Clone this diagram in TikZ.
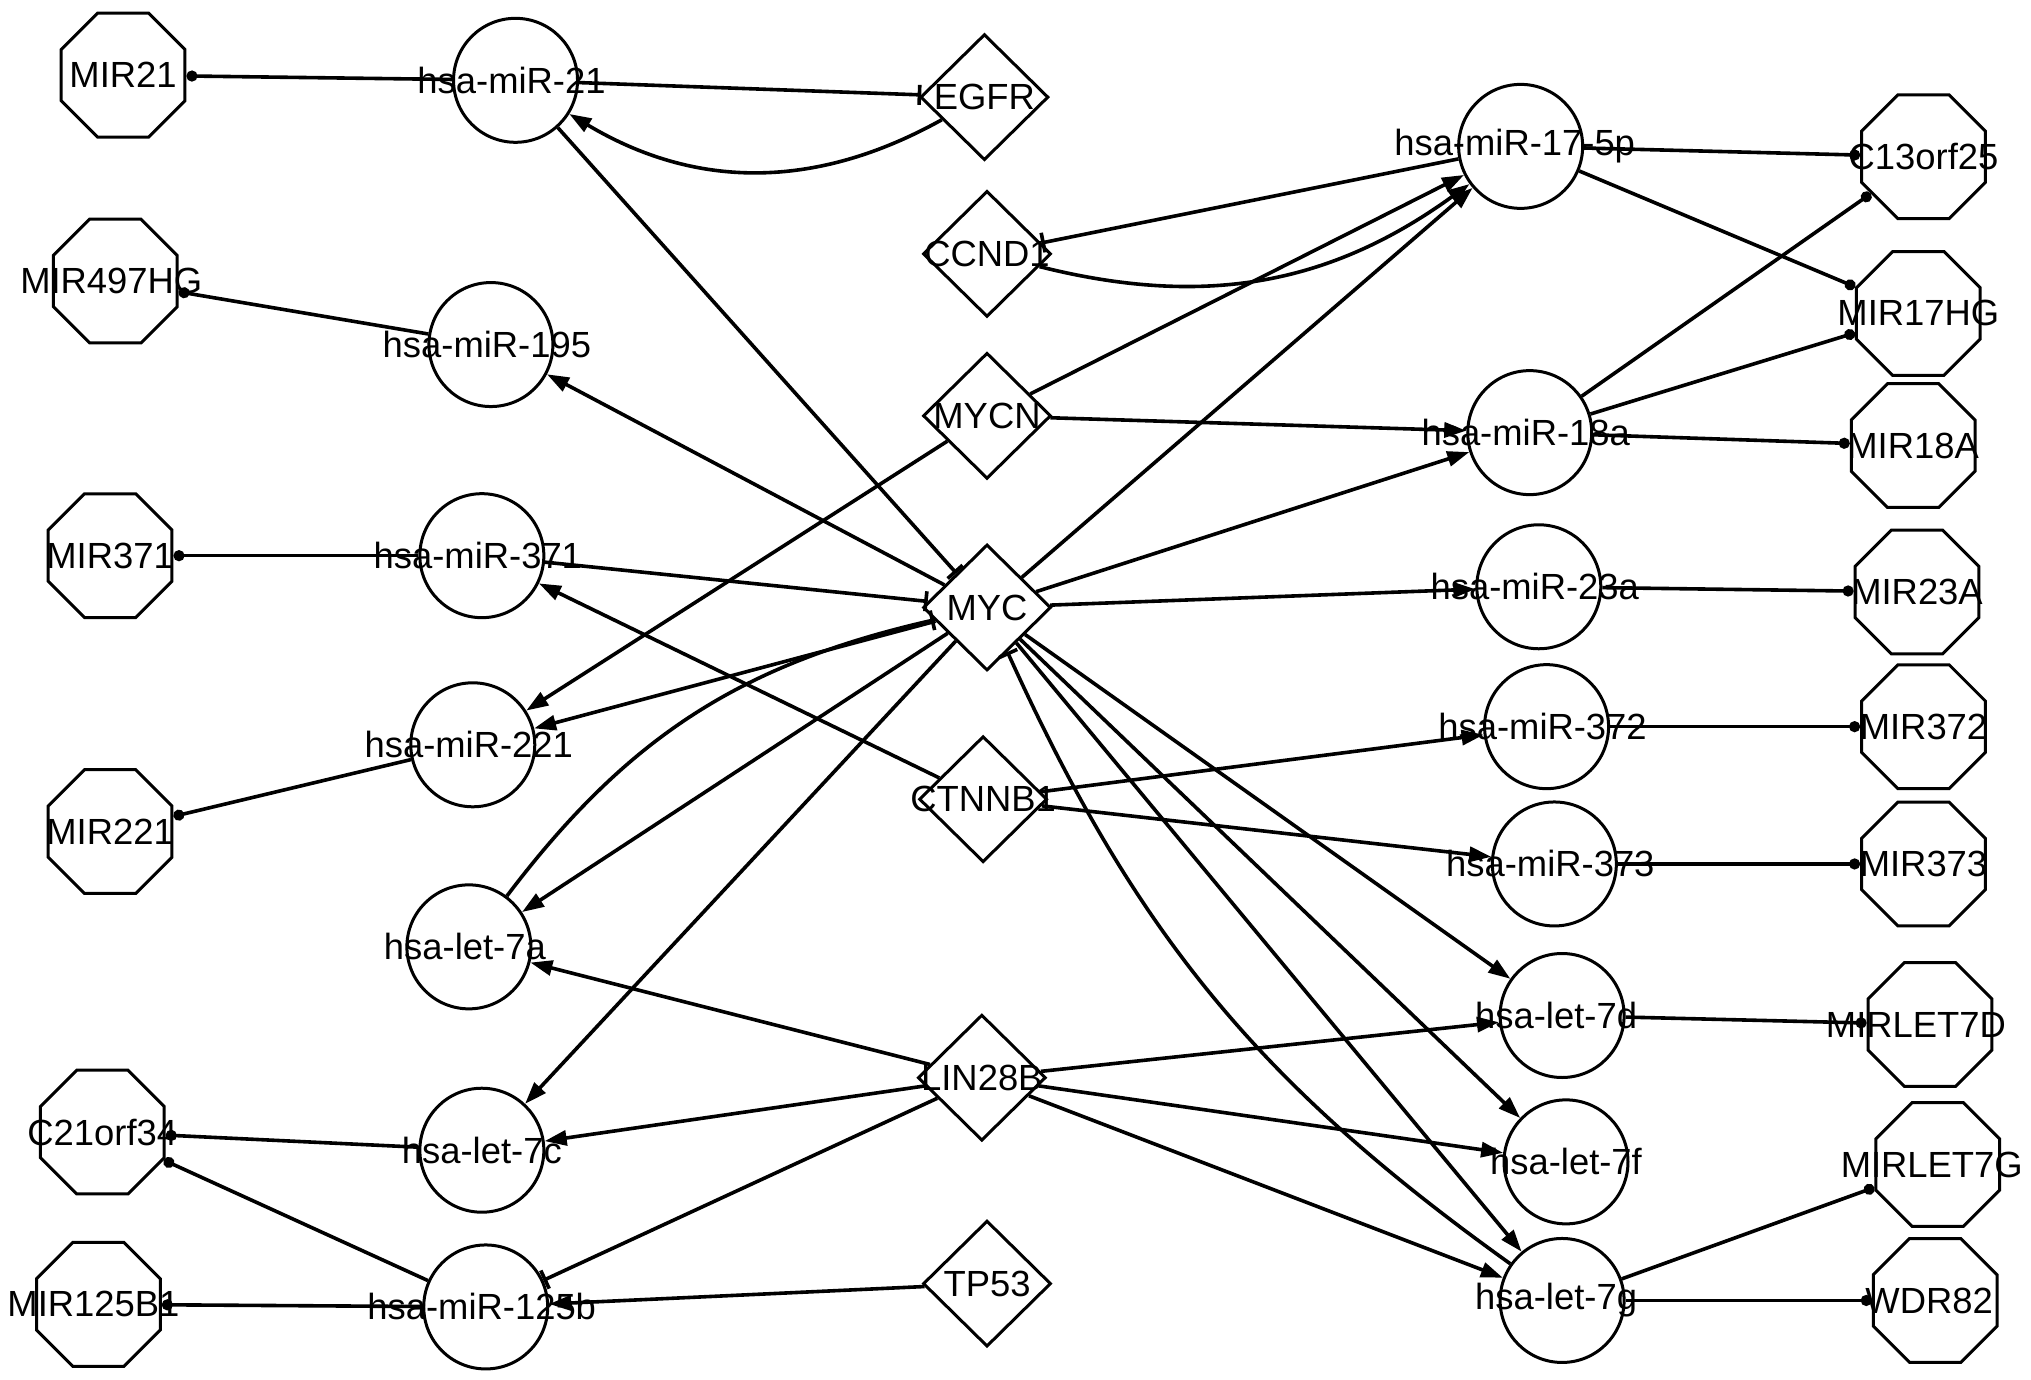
\documentclass[tikz,border=0pt]{standalone}
\usepackage{fontspec}
\setmainfont{Liberation Sans}
\usetikzlibrary{shapes.geometric, arrows.meta}

\begin{document}
\begin{tikzpicture}[x=0.6477pt, y=-0.6477pt, line width=1.8pt,
  font=\fontsize{18.2}{21}\selectfont,
  mir/.style={circle, draw, line width=1.5pt, minimum size=62pt, inner sep=0pt},
  host/.style={regular polygon, regular polygon sides=8, draw, line width=1.5pt, minimum size=67pt, inner sep=0pt},
  tf/.style={diamond, draw, line width=1.5pt, minimum width=64pt, minimum height=63pt, inner sep=0pt},
  act/.style={-{Triangle[length=11pt,width=7.5pt]}},
  inh/.style={-{Bar[width=10pt]}},
  hostof/.style={-{Circle[length=5.5pt]}}]
  \useasboundingbox (0,0) rectangle (1568,1065);
  % Host genes, left column
  \node[host, label=center:MIR21] (hMIR21) at (95,58) {};
  \node[host, label={[xshift=-2pt]center:MIR497HG}] (hMIR497HG) at (89,217) {};
  \node[host, label=center:MIR371] (hMIR371) at (85,429) {};
  \node[host, label=center:MIR221] (hMIR221) at (85,642) {};
  \node[host, label=center:C21orf34] (hC21orf34) at (79,874) {};
  \node[host, label={[xshift=-2.5pt]center:MIR125B1}] (hMIR125B1) at (76,1007) {};
  
  % miRNAs, left column
  \node[mir, label={[xshift=-2pt]center:hsa-miR-21}] (m21) at (398,62) {};
  \node[mir, label={[xshift=-2pt]center:hsa-miR-195}] (m195) at (379,266) {};
  \node[mir, label={[xshift=-2pt]center:hsa-miR-371}] (m371) at (372,429) {};
  \node[mir, label={[xshift=-2pt]center:hsa-miR-221}] (m221) at (365,575) {};
  \node[mir, label={[xshift=-2pt]center:hsa-let-7a}] (l7a) at (362,731) {};
  \node[mir, label=center:hsa-let-7c] (l7c) at (372,888) {};
  \node[mir, label={[xshift=-2pt]center:hsa-miR-125b}] (m125b) at (375,1009) {};
  
  % Regulators, middle column
  \node[tf, label=center:EGFR] (EGFR) at (760,75) {};
  \node[tf, label=center:CCND1] (CCND1) at (762,196) {};
  \node[tf, label=center:MYCN] (MYCN) at (762,321) {};
  \node[tf, label=center:MYC] (MYC) at (762,469) {};
  \node[tf, label=center:CTNNB1] (CTNNB1) at (759,617) {};
  \node[tf, label=center:LIN28B] (LIN28B) at (758,832) {};
  \node[tf, label=center:TP53] (TP53) at (762,991) {};
  
  % miRNAs, right column
  \node[mir, label={[xshift=-3pt]center:hsa-miR-17-5p}] (m17) at (1174,113) {};
  \node[mir, label={[xshift=-2pt]center:hsa-miR-18a}] (m18a) at (1181,334) {};
  \node[mir, label={[xshift=-2pt]center:hsa-miR-23a}] (m23a) at (1188,453) {};
  \node[mir, label={[xshift=-2pt]center:hsa-miR-372}] (m372) at (1194,561) {};
  \node[mir, label={[xshift=-2pt]center:hsa-miR-373}] (m373) at (1200,667) {};
  \node[mir, label={[xshift=-3pt]center:hsa-let-7d}] (l7d) at (1206,784) {};
  \node[mir, label=center:hsa-let-7f] (l7f) at (1209,897) {};
  \node[mir, label={[xshift=-3pt]center:hsa-let-7g}] (l7g) at (1206,1004) {};
  
  % Host genes, right column
  \node[host, label=center:C13orf25] (hC13orf25) at (1485,121) {};
  \node[host, label=center:MIR17HG] (hMIR17HG) at (1481,242) {};
  \node[host, label=center:MIR18A] (hMIR18A) at (1477,344) {};
  \node[host, label=center:MIR23A] (hMIR23A) at (1480,457) {};
  \node[host, label=center:MIR372] (hMIR372) at (1485,561) {};
  \node[host, label=center:MIR373] (hMIR373) at (1485,667) {};
  \node[host, label={[xshift=-7pt]center:MIRLET7D}] (hMIRLET7D) at (1490,791) {};
  \node[host, label={[xshift=-3pt]center:MIRLET7G}] (hMIRLET7G) at (1496,899) {};
  \node[host, label={[xshift=-3pt]center:WDR82}] (hWDR82) at (1494,1004) {};
  
  % miRNA -> host gene
  \draw[hostof] (m21) -- (hMIR21);
  \draw[hostof] (m195) -- (hMIR497HG);
  \draw[hostof] (m371) -- (hMIR371);
  \draw[hostof] (m221) -- (hMIR221);
  \draw[hostof] (l7c) -- (hC21orf34);
  \draw[hostof] (m125b) -- (hC21orf34);
  \draw[hostof] (m125b) -- (hMIR125B1);
  \draw[hostof] (m17) -- (hC13orf25);
  \draw[hostof] (m17) -- (hMIR17HG);
  \draw[hostof] (m18a) -- (hC13orf25);
  \draw[hostof] (m18a) -- (hMIR17HG);
  \draw[hostof] (m18a) -- (hMIR18A);
  \draw[hostof] (m23a) -- (hMIR23A);
  \draw[hostof] (m372) -- (hMIR372);
  \draw[hostof] (m373) -- (hMIR373);
  \draw[hostof] (l7d) -- (hMIRLET7D);
  \draw[hostof] (l7g) -- (hMIRLET7G);
  \draw[hostof] (l7g) -- (hWDR82);
  
  % Regulator -> miRNA (activation)
  \draw[act] (MYC) -- (m195);
  \draw[act] (MYC) -- (m221);
  \draw[act] (MYC) -- (l7a);
  \draw[act] (MYC) -- (l7c);
  \draw[act] (MYC) -- (m17);
  \draw[act] (MYC) -- (m18a);
  \draw[act] (MYC) -- (m23a);
  \draw[act] (MYC) -- (l7d);
  \draw[act] (MYC) -- (l7f);
  \draw[act] (MYC) -- (l7g);
  \draw[act] (MYCN) -- (m17);
  \draw[act] (MYCN) -- (m18a);
  \draw[act] (MYCN) -- (m221);
  \draw[act] (CTNNB1) -- (m371);
  \draw[act] (CTNNB1) -- (m372);
  \draw[act] (CTNNB1) -- (m373);
  \draw[act] (LIN28B) -- (l7a);
  \draw[act] (LIN28B) -- (l7c);
  \draw[act] (LIN28B) -- (l7d);
  \draw[act] (LIN28B) -- (l7f);
  \draw[act] (LIN28B) -- (l7g);
  \draw[act] (TP53) -- (m125b);
  \draw[act] (EGFR) to[bend left=30] (m21);
  \draw[act] (CCND1) to[bend right=25] (m17);
  
  % Inhibition
  \draw[inh] (m21) -- (EGFR);
  \draw[inh] (m17) -- (CCND1);
  \draw[inh] (m21) -- (MYC);
  \draw[inh] (m371) -- (MYC);
  \draw[inh] (l7a) to[bend left=20] (MYC);
  \draw[inh] (l7g) to[bend left=15] (MYC);
  \draw[inh] (LIN28B) -- (m125b);
\end{tikzpicture}
\end{document}
